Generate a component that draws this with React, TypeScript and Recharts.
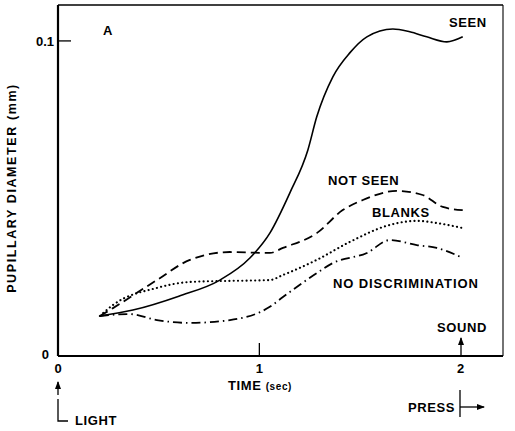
import React from "react";
import { LineChart, Line, XAxis, YAxis, ReferenceLine } from "recharts";

const seenT = [0.208, 0.372, 0.6, 0.804, 0.953, 1.052, 1.151, 1.241, 1.285, 1.365, 1.449, 1.534, 1.663, 1.747, 1.831, 1.931, 2.01];
const seenV = [0.0127, 0.0146, 0.019, 0.0241, 0.0311, 0.039, 0.0517, 0.0654, 0.0759, 0.0886, 0.0962, 0.1013, 0.1038, 0.1029, 0.1013, 0.0997, 0.1013];

const notSeenT = [0.208, 0.273, 0.491, 0.655, 0.854, 1.052, 1.117, 1.285, 1.414, 1.514, 1.682, 1.811, 1.911, 2.01];
const notSeenV = [0.0127, 0.0152, 0.0241, 0.0305, 0.033, 0.0327, 0.0343, 0.039, 0.0463, 0.0495, 0.0524, 0.0511, 0.0473, 0.0463];

const blanksT = [0.208, 0.273, 0.491, 0.655, 0.819, 1.052, 1.117, 1.285, 1.449, 1.648, 1.782, 1.881, 2.01];
const blanksV = [0.0127, 0.0162, 0.0216, 0.0235, 0.0238, 0.0241, 0.0257, 0.0305, 0.0362, 0.0416, 0.0429, 0.0422, 0.0406];

const noDiscT = [0.208, 0.357, 0.491, 0.655, 0.854, 1.052, 1.117, 1.285, 1.365, 1.534, 1.648, 1.782, 1.881, 2.01];
const noDiscV = [0.0127, 0.0133, 0.0114, 0.0105, 0.0114, 0.0156, 0.0187, 0.0263, 0.0295, 0.0327, 0.0368, 0.0352, 0.0343, 0.0311];

const xTicks = [0, 1, 2];
const yTicks = [0, 0.1];
const xMax = 2.21;
const yMax = 0.1114;

const toRows = (t: number[], v: number[]) => t.map((tt, i) => ({ t: tt, v: v[i] }));

const FONT = "'Liberation Sans', Arial, sans-serif";

const XTick = (props: any) => {
  const { x, y, payload } = props;
  return (
    <g>
      {payload.value === 1 && <line x1={x} x2={x} y1={y} y2={y - 13} stroke="#000" strokeWidth={1.3} />}
      <text x={x} y={y + 17} textAnchor="middle" fontFamily={FONT} fontSize={13} fontWeight="bold" fill="#000">
        {payload.value}
      </text>
    </g>
  );
};

const YTick = (props: any) => {
  const { x, y, payload } = props;
  const isTop = payload.value !== 0;
  return (
    <g>
      {isTop && <line x1={x} x2={x + 13} y1={y} y2={y} stroke="#000" strokeWidth={1.3} />}
      <text x={isTop ? x - 4 : x - 9} y={y + (isTop ? 5 : 3)} textAnchor="end" fontFamily={FONT} fontSize={13} fontWeight="bold" fill="#000">
        {isTop ? "0.1" : "0"}
      </text>
    </g>
  );
};

const lbl = { fontFamily: FONT, fontSize: 13, fontWeight: "bold" as const, fill: "#000", letterSpacing: 0.6 };

export default function App() {
  return (
    <div style={{ position: "absolute", left: 0, top: 0, width: 515, height: 431, background: "#fff" }}>
      <LineChart width={515} height={431} margin={{ top: 5, right: 12, left: 0, bottom: 0 }}>
        <XAxis
          type="number"
          dataKey="t"
          domain={[0, xMax]}
          ticks={xTicks}
          height={75}
          tickSize={0}
          tickMargin={0}
          tick={<XTick />}
          axisLine={{ stroke: "#000", strokeWidth: 2 }}
          tickLine={false}
          allowDataOverflow
        />
        <YAxis
          type="number"
          dataKey="v"
          domain={[0, yMax]}
          ticks={yTicks}
          width={58}
          tickSize={0}
          tickMargin={0}
          tick={<YTick />}
          axisLine={{ stroke: "#000", strokeWidth: 2.2 }}
          tickLine={false}
          allowDataOverflow
        />
        <ReferenceLine y={yMax} stroke="#000" strokeWidth={1.3} ifOverflow="visible" />
        <ReferenceLine x={xMax} stroke="#000" strokeWidth={1.1} ifOverflow="visible" />
        <Line data={toRows(seenT, seenV)} dataKey="v" type="monotone" stroke="#000" strokeWidth={1.6} dot={false} isAnimationActive={false} />
        <Line data={toRows(notSeenT, notSeenV)} dataKey="v" type="monotone" stroke="#000" strokeWidth={1.8} strokeDasharray="9 5" dot={false} isAnimationActive={false} />
        <Line data={toRows(blanksT, blanksV)} dataKey="v" type="monotone" stroke="#000" strokeWidth={2.1} strokeDasharray="0.1 4.2" strokeLinecap="round" dot={false} isAnimationActive={false} />
        <Line data={toRows(noDiscT, noDiscV)} dataKey="v" type="monotone" stroke="#000" strokeWidth={1.8} strokeDasharray="9 4 1.5 4" dot={false} isAnimationActive={false} />
      </LineChart>
      <svg width={515} height={431} style={{ position: "absolute", left: 0, top: 0, pointerEvents: "none" }}>
        <defs>
          <marker id="ah" markerWidth="8" markerHeight="8" refX="7" refY="4" orient="auto" markerUnits="userSpaceOnUse">
            <path d="M0,1 L8,4 L0,7 Z" fill="#000" />
          </marker>
        </defs>
        <text {...lbl} x={103} y={35}>A</text>
        <text {...lbl} x={449} y={27}>SEEN</text>
        <text {...lbl} x={328} y={184.5}>NOT SEEN</text>
        <text {...lbl} x={372} y={216.5}>BLANKS</text>
        <text {...lbl} x={333} y={287.5} letterSpacing={0.9}>NO DISCRIMINATION</text>
        <text {...lbl} x={437} y={331.5}>SOUND</text>
        <line x1={461} y1={356} x2={461} y2={338} stroke="#000" strokeWidth={1.3} markerEnd="url(#ah)" />
        <text {...lbl} x={16} y={188} textAnchor="middle" transform="rotate(-90 16 188)" fontSize={12.5} letterSpacing={1.6}>
          PUPILLARY DIAMETER (mm)
        </text>
        <text {...lbl} x={228} y={389.5}>
          TIME <tspan fontSize={10}>(sec)</tspan>
        </text>
        <line x1={58} y1={395} x2={58} y2={382} stroke="#000" strokeWidth={1.3} markerEnd="url(#ah)" />
        <path d="M58,399 L58,421 L68,421" fill="none" stroke="#000" strokeWidth={1.3} />
        <text {...lbl} x={75} y={425}>LIGHT</text>
        <text {...lbl} x={408} y={411.5}>PRESS</text>
        <line x1={460} y1={390} x2={460} y2={417} stroke="#000" strokeWidth={1.3} />
        <line x1={460} y1={407} x2={484} y2={407} stroke="#000" strokeWidth={1.3} markerEnd="url(#ah)" />
      </svg>
    </div>
  );
}
